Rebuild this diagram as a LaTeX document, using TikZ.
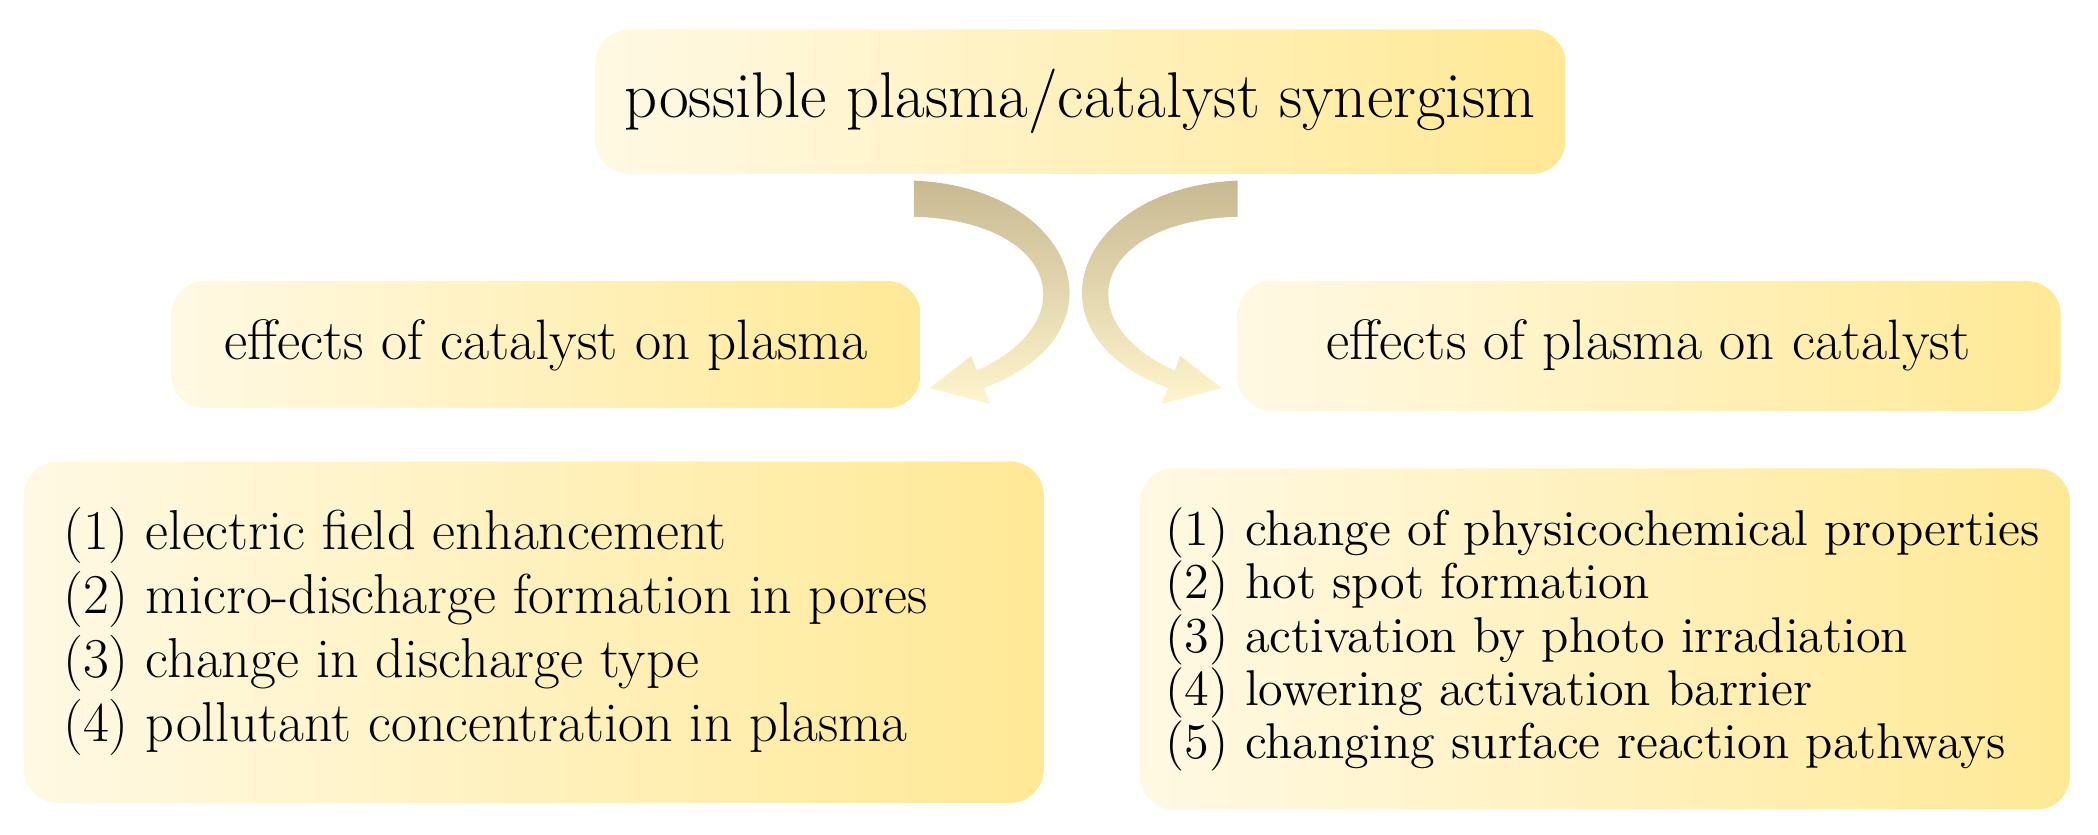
\documentclass[tikz,border=0pt]{standalone}
\definecolor{boxL}{RGB}{255,249,228}
\definecolor{boxR}{RGB}{255,233,150}
\definecolor{tan}{RGB}{200,185,145}
\definecolor{pale}{RGB}{255,245,205}
\tikzset{
  bx/.style={rounded corners=25*0.01338cm, left color=boxL, right color=boxR, draw=none},
  arr/.style={top color=tan, bottom color=pale, draw=none}
}
\begin{document}
\begin{tikzpicture}[x=0.01338cm,y=-0.01338cm]
\useasboundingbox (0,0) rectangle (1568,624);
% boxes
\shade[bx] (445,22) rectangle (1170,130);
\node (top) at (807,76) {\fontsize{18.4}{22}\selectfont possible plasma/catalyst synergism};
\shade[bx] (128,210) rectangle (688,305);
\node (ml) at (408,258) {\fontsize{16.2}{19}\selectfont effects of catalyst on plasma};
\shade[bx] (925,210) rectangle (1540,307);
\node (mr) at (1232,258) {\fontsize{16.2}{19}\selectfont effects of plasma on catalyst};
\shade[bx] (18,345) rectangle (780,600);
\node[anchor=west,align=left,font=\fontsize{16}{18.2}\selectfont] (bl) at (38,472) {%
(1) electric field enhancement\\
(2) micro-discharge formation in pores\\
(3) change in discharge type\\
(4) pollutant concentration in plasma};
\shade[bx] (852,350) rectangle (1547,605);
\node[anchor=west,align=left,font=\fontsize{14.3}{15.2}\selectfont] (br) at (862,478) {%
(1) change of physicochemical properties\\
(2) hot spot formation\\
(3) activation by photo irradiation\\
(4) lowering activation barrier\\
(5) changing surface reaction pathways};
% curved arrows
\shade[arr] (683,135) .. controls (805,140) and (845,250) .. (735,290) -- (740,302) -- (695,290) -- (726,266) -- (730,277) .. controls (812,240) and (790,165) .. (683,162) -- cycle;
\shade[arr] (925,135) .. controls (803,140) and (763,250) .. (873,290) -- (868,302) -- (913,290) -- (882,266) -- (878,277) .. controls (796,240) and (818,165) .. (925,162) -- cycle;
\end{tikzpicture}
\end{document}
